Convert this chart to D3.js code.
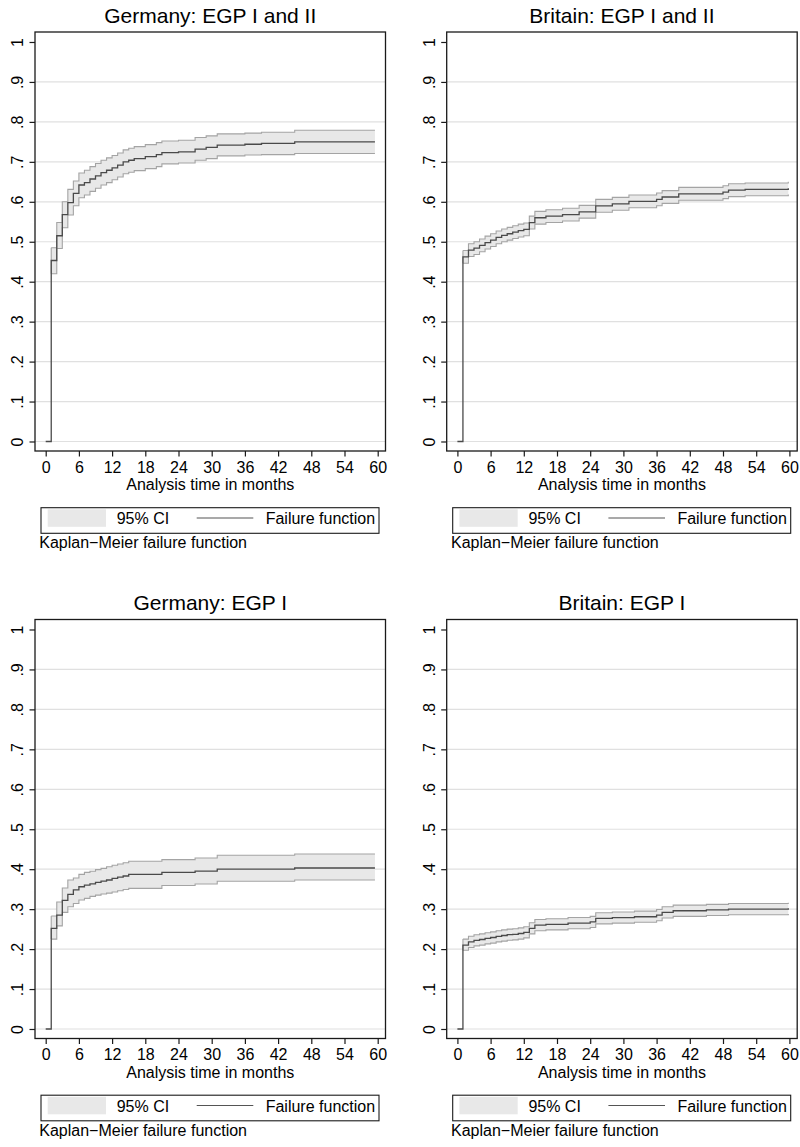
<!DOCTYPE html>
<html>
<head>
<meta charset="utf-8">
<script src="https://cdn.jsdelivr.net/npm/d3@7"></script>
<style>
  html, body { margin: 0; padding: 0; background: #fff; }
  svg { display: block; }
  text { font-family: "Liberation Sans", Arial, Helvetica, sans-serif; fill: #000; }
</style>
</head>
<body>
<svg id="chart" width="800" height="1147"></svg>
<script>
// ---------- data ----------
const panelTitles = ["Germany: EGP I and II", "Britain: EGP I and II", "Germany: EGP I", "Britain: EGP I"];
const xTicks = [0, 6, 12, 18, 24, 30, 36, 42, 48, 54, 60];
const yTicks = [0, 0.1, 0.2, 0.3, 0.4, 0.5, 0.6, 0.7, 0.8, 0.9, 1];
const yTickLabels = ["0", ".1", ".2", ".3", ".4", ".5", ".6", ".7", ".8", ".9", "1"];
const xAxisTitle = "Analysis time in months";
const legendLabels = ["95% CI", "Failure function"];
const noteText = "Kaplan\u2212Meier failure function";

// Germany: EGP I and II
const deAllTime = [0, 1, 2, 3, 4, 5, 6, 7, 8, 9, 10, 11, 12, 13, 14, 15, 16, 18, 20, 21, 24, 27, 29, 31, 36, 39, 45, 59.5];
const deAllFail = [0, .453, .515, .568, .598, .621, .642, .648, .657, .665, .673, .679, .685, .692, .700, .704, .708, .713, .718, .723, .725, .732, .736, .742, .744, .746, .750, .750];
const deAllLow  = [0, .420, .483, .535, .567, .590, .610, .617, .626, .634, .642, .648, .655, .662, .670, .674, .678, .683, .688, .695, .697, .704, .708, .715, .717, .718, .721, .721];
const deAllHigh = [0, .485, .548, .600, .631, .652, .672, .679, .688, .696, .704, .710, .716, .722, .730, .734, .738, .743, .748, .752, .754, .761, .765, .770, .772, .774, .779, .779];

// Britain: EGP I and II
const gbAllTime = [0, 1, 2, 3, 4, 5, 6, 7, 8, 9, 10, 11, 12, 13, 14, 16, 19, 22, 25, 28, 31, 36, 37, 40, 48, 49, 52, 59.8];
const gbAllFail = [0, .462, .479, .484, .491, .498, .504, .511, .516, .520, .524, .528, .531, .548, .560, .564, .568, .575, .590, .595, .601, .606, .612, .620, .624, .629, .631, .634];
const gbAllLow  = [0, .446, .463, .468, .475, .482, .488, .495, .500, .504, .508, .512, .515, .532, .544, .548, .552, .559, .574, .579, .585, .590, .596, .604, .608, .613, .615, .618];
const gbAllHigh = [0, .478, .495, .500, .507, .514, .520, .527, .532, .536, .540, .544, .547, .564, .576, .580, .584, .591, .606, .611, .617, .622, .628, .636, .640, .645, .647, .650];

// Germany: EGP I
const deOneTime = [0, 1, 2, 3, 4, 5, 6, 7, 8, 9, 10, 11, 12, 13, 14, 15, 21, 27, 31, 45, 59.5];
const deOneFail = [0, .252, .285, .322, .337, .348, .356, .360, .363, .367, .370, .373, .377, .380, .383, .387, .392, .395, .400, .403, .403];
const deOneLow  = [0, .225, .258, .292, .306, .314, .323, .327, .332, .335, .338, .340, .343, .346, .349, .352, .359, .363, .370, .373, .373];
const deOneHigh = [0, .283, .318, .353, .373, .378, .387, .392, .395, .399, .402, .406, .410, .413, .416, .420, .424, .428, .435, .438, .438];

// Britain: EGP I
const gbOneTime = [0, 1, 2, 3, 4, 5, 6, 7, 8, 9, 10, 11, 12, 13, 14, 16, 20, 24, 25, 28, 32, 36, 37, 39, 45, 49, 59.8];
const gbOneFail = [0, .210, .218, .222, .224, .227, .229, .232, .234, .236, .237, .239, .242, .252, .260, .262, .265, .268, .277, .279, .281, .285, .292, .296, .298, .300, .302];
const gbOneLow  = [0, .197, .204, .208, .210, .213, .215, .218, .220, .222, .223, .225, .228, .238, .246, .248, .251, .254, .263, .265, .267, .271, .278, .282, .284, .286, .288];
const gbOneHigh = [0, .225, .232, .236, .238, .241, .243, .246, .248, .250, .251, .253, .256, .266, .274, .276, .279, .282, .291, .293, .295, .299, .306, .310, .312, .314, .316];

// ---------- layout ----------
const seriesList = [
  {time: deAllTime, fail: deAllFail, low: deAllLow, high: deAllHigh},
  {time: gbAllTime, fail: gbAllFail, low: gbAllLow, high: gbAllHigh},
  {time: deOneTime, fail: deOneFail, low: deOneLow, high: deOneHigh},
  {time: gbOneTime, fail: gbOneFail, low: gbOneLow, high: gbOneHigh}
];
const panelPos = [[35, 32], [446.7, 32], [35, 619.5], [446.7, 619.5]];
const PW = 350.5, PH = 419;

const svg = d3.select("#chart");

function hText(g, x, y, str, size, anchor) {
  return g.append("text")
    .attr("x", x).attr("y", y)
    .attr("text-anchor", anchor || "start")
    .style("font-size", size + "px")
    .text(str);
}

seriesList.forEach((s, i) => {
  const [L, T] = panelPos[i];
  const g = svg.append("g");
  const x = d3.scaleLinear().domain([-1.934, 61.41]).range([L, L + PW]);
  const y = d3.scaleLinear().domain([-0.0238, 1.025]).range([T + PH, T]);
  const B = T + PH;

  // gridlines
  g.append("g").selectAll("line").data(yTicks.filter(v => v < 1)).join("line")
    .attr("x1", L).attr("x2", L + PW)
    .attr("y1", d => y(d)).attr("y2", d => y(d))
    .attr("stroke", "#e0e0e0").attr("stroke-width", 1.2);

  const pts = s.time.map((t, k) => ({t, f: s.fail[k], lo: s.low[k], hi: s.high[k]}));
  const ciPts = pts.slice(1);

  // CI band
  g.append("path").datum(ciPts)
    .attr("d", d3.area().curve(d3.curveStepAfter).x(d => x(d.t)).y0(d => y(d.lo)).y1(d => y(d.hi)))
    .attr("fill", "#e8e8e8");
  ["lo", "hi"].forEach(key => {
    g.append("path").datum(ciPts)
      .attr("d", d3.line().curve(d3.curveStepAfter).x(d => x(d.t)).y(d => y(d[key])))
      .attr("fill", "none").attr("stroke", "#a4a4a4").attr("stroke-width", 1.1);
  });
  g.append("line")
    .attr("x1", x(ciPts[0].t)).attr("x2", x(ciPts[0].t))
    .attr("y1", y(ciPts[0].lo)).attr("y2", y(ciPts[0].hi))
    .attr("stroke", "#a4a4a4").attr("stroke-width", 1.1);

  // failure function
  g.append("path").datum(pts)
    .attr("d", d3.line().curve(d3.curveStepAfter).x(d => x(d.t)).y(d => y(d.f)))
    .attr("fill", "none").attr("stroke", "#4a4a4a").attr("stroke-width", 1.3);

  // frame
  g.append("rect").attr("x", L).attr("y", T).attr("width", PW).attr("height", PH)
    .attr("fill", "none").attr("stroke", "#1a1a1a").attr("stroke-width", 1.3);

  // y axis
  const ya = g.append("g").attr("transform", `translate(${L},0)`)
    .call(d3.axisLeft(y).tickValues(yTicks).tickSize(5.5).tickFormat((d, k) => yTickLabels[k]));
  ya.select(".domain").remove();
  ya.selectAll(".tick line").attr("stroke", "#1a1a1a").attr("stroke-width", 1.2);
  ya.selectAll(".tick text")
    .attr("x", null).attr("dy", null)
    .attr("transform", "translate(-12,0) rotate(-90)")
    .attr("text-anchor", "middle")
    .style("font-size", "16px")
    .style("font-family", "'Liberation Sans', Arial, sans-serif")
    .attr("fill", "#000");

  // x axis
  const xa = g.append("g").attr("transform", `translate(0,${B})`)
    .call(d3.axisBottom(x).tickValues(xTicks).tickSize(5.5));
  xa.select(".domain").remove();
  xa.selectAll(".tick line").attr("stroke", "#1a1a1a").attr("stroke-width", 1.2);
  xa.selectAll(".tick text")
    .attr("y", 21.5).attr("dy", null)
    .style("font-size", "16px")
    .style("font-family", "'Liberation Sans', Arial, sans-serif")
    .attr("fill", "#000");

  const cx = L + PW / 2;
  hText(g, cx, B + 39, xAxisTitle, 16, "middle");
  hText(g, cx, T - 9.5, panelTitles[i], 21, "middle");

  // legend
  g.append("rect").attr("x", L + 6).attr("y", B + 56.7).attr("width", 338).attr("height", 25.6)
    .attr("fill", "#fff").attr("stroke", "#1a1a1a").attr("stroke-width", 1.1);
  g.append("rect").attr("x", L + 12.7).attr("y", B + 58.3).attr("width", 58.3).attr("height", 17.5)
    .attr("fill", "#e8e8e8");
  hText(g, L + 81.7, B + 73, legendLabels[0], 16, "start");
  g.append("line").attr("x1", L + 161.7).attr("x2", L + 218.3).attr("y1", B + 67).attr("y2", B + 67)
    .attr("stroke", "#555").attr("stroke-width", 1.2);
  hText(g, L + 230.7, B + 73, legendLabels[1], 16, "start");

  hText(g, L + 4.3, B + 97, noteText, 16, "start");
});
</script>
</body>
</html>
